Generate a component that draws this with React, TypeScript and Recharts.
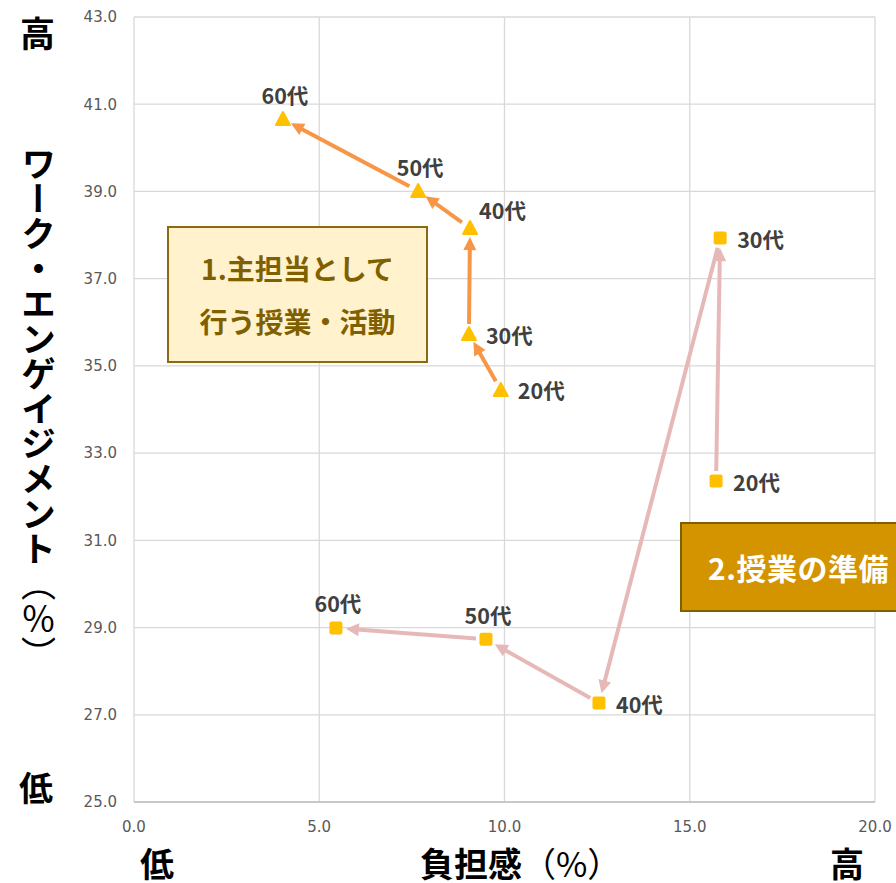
import React from 'react';
import { ScatterChart, Scatter, XAxis, YAxis, CartesianGrid, ReferenceLine } from 'recharts';

const ages = ['20代', '30代', '40代', '50代', '60代'];
const s1X = [9.9, 9.04, 9.07, 7.67, 4.02];
const s1Y = [34.45, 35.73, 38.16, 39.01, 40.66];
const s2X = [15.71, 15.82, 12.55, 9.5, 5.45];
const s2Y = [32.36, 37.93, 27.27, 28.73, 28.99];
const xTicks = [0, 5, 10, 15, 20];
const yTicks = [25, 27, 29, 31, 33, 35, 37, 39, 41, 43];

// label placement (layout only)
const s1LabelPos = ['right', 'right', 'upRight', 'top', 'top'];
const s2LabelPos = ['right', 'right', 'right', 'top', 'top'];

const s1 = ages.map((a, i) => ({ x: s1X[i], y: s1Y[i], age: a, pos: s1LabelPos[i] }));
const s2 = ages.map((a, i) => ({ x: s2X[i], y: s2Y[i], age: a, pos: s2LabelPos[i] }));

const JP = '"Noto Sans CJK JP", "Noto Sans", sans-serif';
const YELLOW = '#FFC000';
const ORANGE = '#F79646';
const PINK = '#E6B9B8';

const labelText = (cx: number, cy: number, pos: string, text: string) => {
  let x = cx + 17;
  let y = cy;
  let anchor: 'start' | 'middle' = 'start';
  if (pos === 'upRight') {
    x = cx + 9;
    y = cy - 19;
  } else if (pos === 'top') {
    x = cx + 2;
    y = cy - 25;
    anchor = 'middle';
  }
  return (
    <text
      x={x}
      y={y}
      textAnchor={anchor}
      dominantBaseline="central"
      fontFamily={JP}
      fontWeight={700}
      fontSize={21.5}
      fill="#404040"
    >
      {text}
    </text>
  );
};

const TriShape = (props: any) => {
  const { cx, cy, payload } = props;
  const s = 7;
  return (
    <g>
      <polygon
        points={`${cx},${cy - s} ${cx + s},${cy + s - 1} ${cx - s},${cy + s - 1}`}
        fill={YELLOW}
        stroke={YELLOW}
        strokeWidth={2}
        strokeLinejoin="round"
      />
      {labelText(cx, cy, payload.pos, payload.age)}
    </g>
  );
};

const SqShape = (props: any) => {
  const { cx, cy, payload } = props;
  const s = 6.5;
  return (
    <g>
      <rect x={cx - s} y={cy - s} width={2 * s} height={2 * s} rx={2} fill={YELLOW} />
      {labelText(cx, cy, payload.pos, payload.age)}
    </g>
  );
};

const makeArrow = (color: string, startGap: number, endGap: number) => (props: any) => {
  const { x1, y1, x2, y2 } = props;
  const dx = x2 - x1;
  const dy = y2 - y1;
  const len = Math.hypot(dx, dy) || 1;
  const ux = dx / len;
  const uy = dy / len;
  const sx = x1 + ux * startGap;
  const sy = y1 + uy * startGap;
  const tx = x2 - ux * endGap;
  const ty = y2 - uy * endGap;
  const headLen = 13;
  const headW = 6.5;
  const bx = tx - ux * headLen;
  const by = ty - uy * headLen;
  const px = -uy;
  const py = ux;
  return (
    <g>
      <line x1={sx} y1={sy} x2={bx + ux * 2} y2={by + uy * 2} stroke={color} strokeWidth={4} />
      <polygon
        points={`${tx},${ty} ${bx + px * headW},${by + py * headW} ${bx - px * headW},${by - py * headW}`}
        fill={color}
      />
    </g>
  );
};

const orangeArrow = makeArrow(ORANGE, 10, 9);
const pinkArrow = makeArrow(PINK, 10, 10);

const tickStyle = { fontFamily: '"DejaVu Sans", Verdana, sans-serif', fontSize: 15, fill: '#595959' };

const abs = (style: React.CSSProperties): React.CSSProperties => ({ position: 'absolute', ...style });
const bigText: React.CSSProperties = { fontFamily: JP, fontWeight: 700, color: '#000', whiteSpace: 'nowrap' };

export default function App() {
  const arrows1 = s1.slice(0, -1).map((p, i) => ({ a: p, b: s1[i + 1] }));
  const arrows2 = s2.slice(0, -1).map((p, i) => ({ a: p, b: s2[i + 1] }));
  return (
    <div style={{ position: 'absolute', left: 0, top: 0, width: 896, height: 883, overflow: 'hidden', background: '#fff' }}>
      <ScatterChart width={896} height={883} margin={{ top: 17, right: 21, bottom: 51, left: 0 }}>
        <CartesianGrid stroke="#D9D9D9" strokeWidth={1.3} />
        <XAxis
          type="number"
          dataKey="x"
          domain={[0, 20]}
          ticks={xTicks}
          tickFormatter={(v: number) => v.toFixed(1)}
          tick={tickStyle}
          tickLine={false}
          tickMargin={13}
          axisLine={{ stroke: '#BFBFBF', strokeWidth: 1.3 }}
          height={30}
          allowDataOverflow
        />
        <YAxis
          type="number"
          dataKey="y"
          domain={[25, 43]}
          ticks={yTicks}
          tickFormatter={(v: number) => v.toFixed(1)}
          tick={tickStyle}
          tickLine={false}
          tickMargin={11}
          axisLine={false}
          width={134}
          allowDataOverflow
        />
        {arrows2.map((s, i) => (
          <ReferenceLine
            key={'p' + i}
            segment={[{ x: s.a.x, y: s.a.y }, { x: s.b.x, y: s.b.y }]}
            shape={pinkArrow}
            ifOverflow="visible"
          />
        ))}
        {arrows1.map((s, i) => (
          <ReferenceLine
            key={'o' + i}
            segment={[{ x: s.a.x, y: s.a.y }, { x: s.b.x, y: s.b.y }]}
            shape={orangeArrow}
            ifOverflow="visible"
          />
        ))}
        <Scatter data={s2} shape={SqShape} isAnimationActive={false} />
        <Scatter data={s1} shape={TriShape} isAnimationActive={false} />
      </ScatterChart>

      {/* annotation boxes */}
      <div
        style={abs({
          left: 167,
          top: 226,
          width: 261,
          height: 137,
          boxSizing: 'border-box',
          background: '#FFF2CC',
          border: '2px solid #8C6A12',
          display: 'flex',
          flexDirection: 'column',
          alignItems: 'center',
          justifyContent: 'center',
          fontFamily: JP,
          fontWeight: 700,
          fontSize: 28,
          lineHeight: '53px',
          color: '#7F6000',
        })}
      >
        <div>1.主担当として</div>
        <div>行う授業・活動</div>
      </div>
      <div
        style={abs({
          left: 680,
          top: 522,
          width: 300,
          height: 90,
          boxSizing: 'border-box',
          background: '#D39400',
          border: '2px solid #7F6000',
          display: 'flex',
          alignItems: 'center',
          paddingLeft: 26,
          fontFamily: JP,
          fontWeight: 700,
          fontSize: 30,
          letterSpacing: 0.5,
          color: '#FFFFFF',
          whiteSpace: 'nowrap',
        })}
      >
        2.授業の準備
      </div>

      {/* axis titles */}
      <div style={abs({ ...bigText, left: 20, top: 12, fontSize: 35, lineHeight: '40px' })}>高</div>
      <div style={abs({ ...bigText, left: 19, top: 767, fontSize: 34, lineHeight: '40px' })}>低</div>
      <div
        style={abs({
          ...bigText,
          left: 18,
          top: 146,
          writingMode: 'vertical-rl',
          fontSize: 35,
          lineHeight: '40px',
        })}
      >
        ワーク・エンゲイジメント<span style={{ fontWeight: 400 }}>（％）</span>
      </div>
      <div style={abs({ ...bigText, left: 140, top: 845, fontSize: 34, lineHeight: '36px' })}>低</div>
      <div style={abs({ ...bigText, left: 830, top: 845, fontSize: 34, lineHeight: '36px' })}>高</div>
      <div style={abs({ ...bigText, left: 420, top: 845, fontSize: 34, lineHeight: '36px' })}>
        負担感<span style={{ fontWeight: 400 }}>（%）</span>
      </div>
    </div>
  );
}
